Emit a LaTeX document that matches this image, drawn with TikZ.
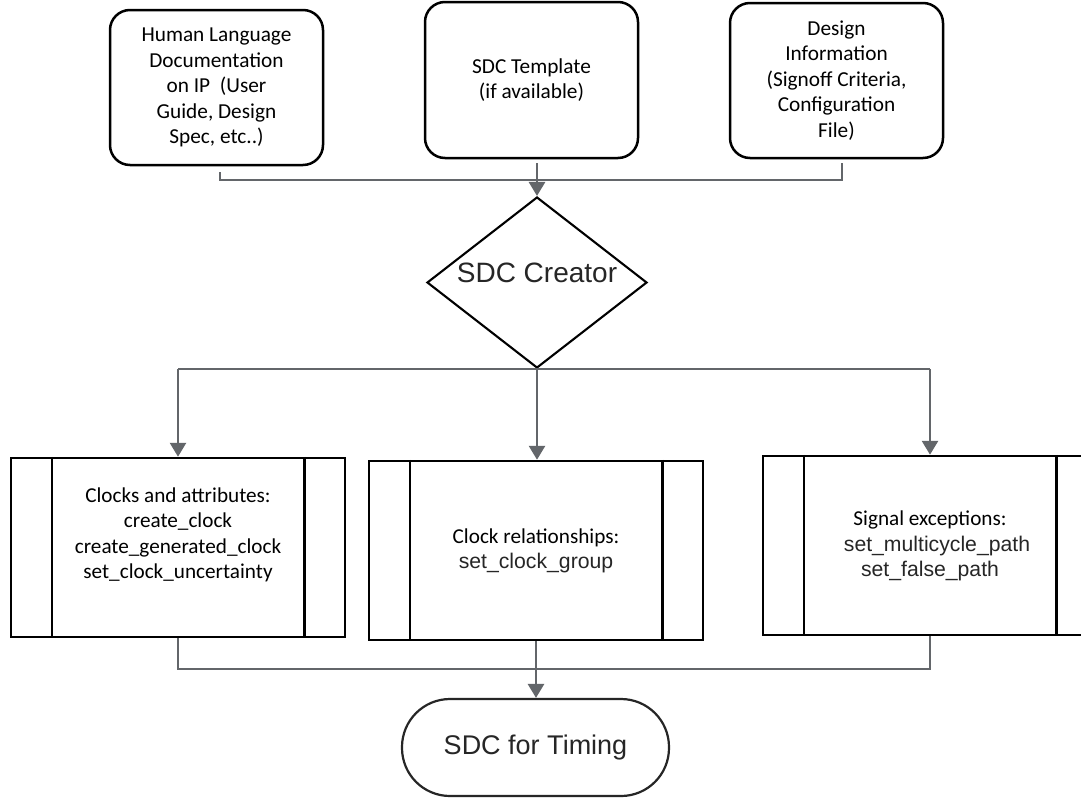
\documentclass[tikz,border=0pt]{standalone}
\usepackage{fontspec}
\setmainfont{Carlito}
\newfontfamily\arialf{Liberation Sans}
\usetikzlibrary{arrows.meta,shapes.geometric}
\definecolor{linegray}{RGB}{99,102,106}
\definecolor{textgray}{RGB}{38,38,38}
\begin{document}
\begin{tikzpicture}[x=1pt,y=-1pt,
  box/.style={draw=black,line width=2.5pt,rounded corners=20pt,minimum width=213pt,align=center,inner sep=0pt,font=\fontsize{21.3}{25.5}\selectfont},
  proc/.style={draw=black,line width=2.5pt,minimum width=334pt,minimum height=179pt,inner sep=0pt},
  ptext/.style={align=center,inner sep=0pt,font=\fontsize{21.2}{25.5}\selectfont},
  conn/.style={draw=linegray,line width=2.8pt},
  arr/.style={conn,-{Triangle[width=16pt,length=14pt]}},
  inner/.style={draw=black,line width=2.5pt},
]
\clip (0,0) rectangle (1081,798);
\fill[white] (0,0) rectangle (1081,798);

% top boxes
\node[box,minimum height=155pt] (t1) at (216.5,87.5) {Human Language\\Documentation\\on IP~ (User\\Guide, Design\\Spec, etc..)};
\node[box,minimum height=156pt] (t2) at (531.5,80) {SDC Template\\(if available)};
\node[box,minimum height=155pt] (t3) at (836.5,80.5) {Design\\Information\\(Signoff Criteria,\\Configuration\\File)};

% diamond
\node[draw=black,line width=2.1pt,diamond,minimum width=220pt,minimum height=171pt,inner sep=0pt] (dia) at (537,282.5) {};
\node[font=\arialf\fontsize{28}{32}\selectfont,text=textgray,inner sep=0pt] (diat) at (537,273) {SDC Creator};

% process boxes
\node[proc] (b1) at (178,547.5) {};
\node[proc] (b2) at (536,550.5) {};
\node[proc] (b3) at (930,545.5) {};
\foreach \b in {b1,b2,b3}{
  \draw[inner] ([xshift=42pt]\b.north west) -- ([xshift=42pt]\b.south west);
  \draw[inner] ([xshift=-42pt]\b.north east) -- ([xshift=-42pt]\b.south east);
}
\node[ptext] (b1t) at (178,535) {Clocks and attributes:\\create\_clock\\create\_generated\_clock\\set\_clock\_uncertainty};
\node[ptext] (b2t) at (536,551) {Clock relationships:\\{\arialf\color{textgray}set\_clock\_group}};
\node[ptext] (b3t) at (930,546) {Signal exceptions:\\{\arialf\color{textgray}\hspace*{14pt}set\_multicycle\_path}\\{\arialf\color{textgray}set\_false\_path}};

% terminal
\node[draw=black!85,line width=2.2pt,rounded corners=48pt,minimum width=267pt,minimum height=97pt,inner sep=0pt,font=\arialf\fontsize{27}{30}\selectfont,text=textgray] (term) at (535.5,747.5) {SDC for Timing};

% connectors
\coordinate (j1) at (537,180);
\coordinate (j3) at (536,669);
\draw[conn] ([xshift=3.5pt,yshift=-6pt]t1.south) |- (j1) -- ([xshift=5.5pt]t3.south |- j1) -- ([xshift=5.5pt,yshift=-4pt]t3.south);
\draw[arr] ([yshift=-4pt]t2.south -| dia.north) -- (dia.north);
\draw[conn] (b1.north |- dia.south) -- (b3.north |- dia.south);
\draw[arr] (b1.north |- dia.south) -- (b1.north);
\draw[arr] (dia.south) -- (b2.north -| dia.south);
\draw[arr] (b3.north |- dia.south) -- (b3.north);
\draw[conn] (b1.south) |- (j3) -| (b3.south);
\draw[arr] (b2.south) -- (term.north -| b2.south);
\end{tikzpicture}
\end{document}
